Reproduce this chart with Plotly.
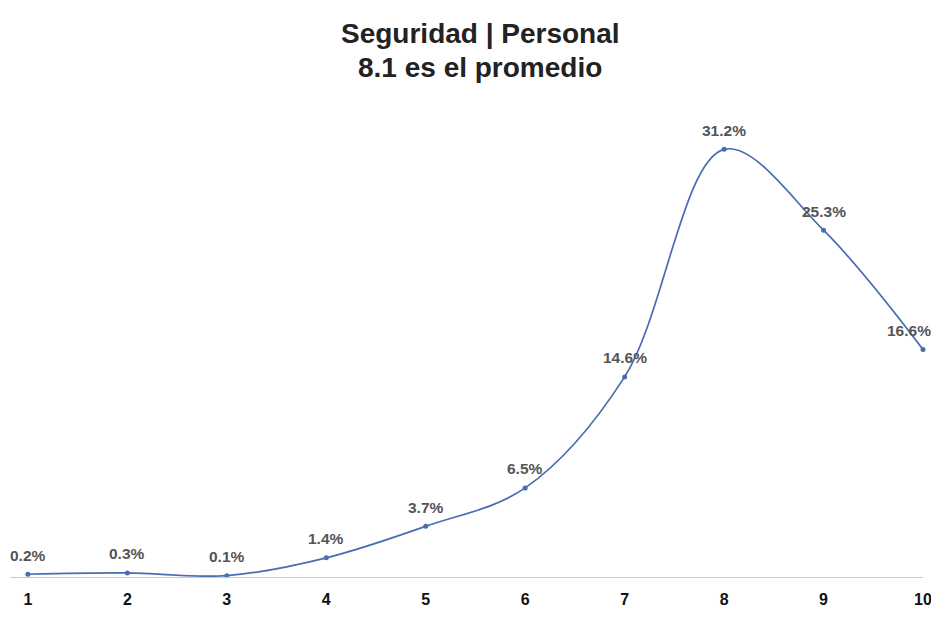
import plotly.graph_objects as go

scores = [1, 2, 3, 4, 5, 6, 7, 8, 9, 10]
shares = [0.2, 0.3, 0.1, 1.4, 3.7, 6.5, 14.6, 31.2, 25.3, 16.6]
title_lines = ['Seguridad | Personal', '8.1 es el promedio']

LINE = '#4a6cb0'
FONT = 'Liberation Sans, Arial'

fig = go.Figure()
fig.add_trace(go.Scatter(
    x=scores, y=shares, mode='lines+markers',
    line=dict(color=LINE, width=1.7, shape='spline', smoothing=1.0),
    marker=dict(color=LINE, size=5),
    showlegend=False, cliponaxis=False))

for i, (s, v) in enumerate(zip(scores, shares)):
    last = i == len(scores) - 1
    fig.add_annotation(
        x=s, y=v, text=f'{v:.1f}%', showarrow=False,
        yshift=19, xshift=-14 if last else 0,
        font=dict(family=FONT, size=15.5, color='#555555', weight='bold'))

# two-line title as paper annotations so both lines stay on the page
for line, ypos in zip(title_lines, [1.14, 1.069]):
    fig.add_annotation(
        xref='paper', yref='paper', x=0.515, y=ypos, text=line,
        showarrow=False, xanchor='center', yanchor='middle',
        font=dict(family=FONT, size=28, color='#222222', weight='bold'))

fig.update_layout(
    width=939, height=617,
    paper_bgcolor='white', plot_bgcolor='white',
    margin=dict(l=2, r=24, t=92, b=48),
    font=dict(family=FONT))

fig.update_xaxes(
    range=[0.82, 10], tickvals=scores, ticktext=[str(s) for s in scores],
    showgrid=False, zeroline=False, showline=True, linecolor='#c8c8c8', linewidth=1,
    ticks='', ticklabelstandoff=8,
    tickfont=dict(size=16, color='#111111', weight='bold'))
fig.update_yaxes(
    range=[0, 34.8], showgrid=False, zeroline=False, showticklabels=False, showline=False)

fig.write_html('out.html')
